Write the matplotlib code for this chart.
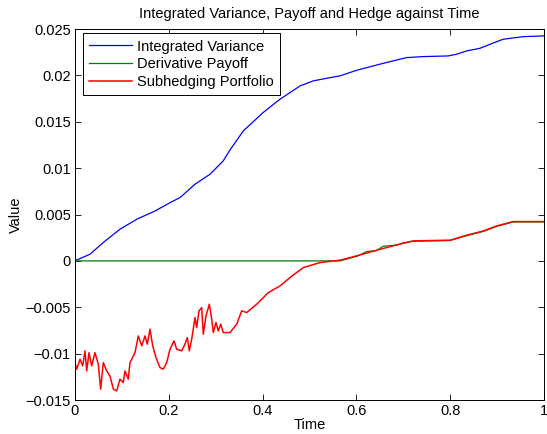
import numpy as np
import matplotlib
matplotlib.use('Agg')
import matplotlib.pyplot as plt
from matplotlib.ticker import FuncFormatter

plt.rcParams['font.family'] = ['Liberation Sans', 'DejaVu Sans']

# integrated variance path
t_var = [0.0, 0.003, 0.032, 0.060, 0.096, 0.132, 0.171, 0.203, 0.224, 0.256, 0.288,
         0.316, 0.330, 0.359, 0.401, 0.437, 0.480, 0.508, 0.544, 0.565, 0.601, 0.650,
         0.693, 0.707, 0.743, 0.796, 0.814, 0.835, 0.864, 0.885, 0.913, 0.956, 1.0]
int_var = [0.0, 0.00008, 0.00072, 0.00197, 0.00342, 0.00450, 0.00539, 0.00629, 0.00683,
           0.00827, 0.00935, 0.01078, 0.01193, 0.01402, 0.01599, 0.01743, 0.01887,
           0.01941, 0.01976, 0.01995, 0.02056, 0.02121, 0.02175, 0.02192, 0.02203,
           0.02210, 0.02229, 0.02264, 0.02293, 0.02336, 0.02390, 0.02418, 0.02426]

# derivative payoff
t_pay = [0.0, 0.565, 0.601, 0.622, 0.643, 0.657, 0.686, 0.700, 0.721, 0.800, 0.835,
         0.871, 0.899, 0.935, 1.0]
payoff = [0.0, 0.0, 0.00050, 0.00100, 0.00112, 0.00158, 0.00170, 0.00194, 0.00212,
          0.00220, 0.00272, 0.00318, 0.00372, 0.00420, 0.00420]

# subhedging portfolio value
t_hedge = [0.0, 0.0036, 0.0107, 0.0164, 0.0213, 0.0249, 0.0299, 0.0356, 0.0426, 0.0497,
           0.0548, 0.0603, 0.0676, 0.0746, 0.0817, 0.0889, 0.0959, 0.1030, 0.1066,
           0.1136, 0.1173, 0.1279, 0.1350, 0.1422, 0.1493, 0.1542, 0.1599, 0.1657,
           0.1727, 0.1812, 0.1883, 0.1955, 0.2026, 0.2111, 0.2168, 0.2275, 0.2345,
           0.2394, 0.2437, 0.2488, 0.2559, 0.2595, 0.2644, 0.2701, 0.2736, 0.2793,
           0.2864, 0.2915, 0.2949, 0.3006, 0.3055, 0.3107, 0.3162, 0.3305, 0.3448,
           0.3554, 0.3661, 0.3874, 0.4122, 0.4371, 0.4584, 0.4868, 0.5224, 0.5650,
           0.6006, 0.6433, 0.6859, 0.7213, 0.7996, 0.8352, 0.8706, 0.8991, 0.9345, 1.0]
hedge = [-0.01097, -0.01168, -0.01060, -0.01132, -0.00970, -0.01186, -0.00989, -0.01132,
         -0.00989, -0.01114, -0.01383, -0.01097, -0.01186, -0.01240, -0.01383, -0.01402,
         -0.01275, -0.01312, -0.01186, -0.01275, -0.01097, -0.00989, -0.00809, -0.00916,
         -0.00809, -0.00898, -0.00736, -0.00916, -0.01043, -0.01150, -0.01168, -0.01097,
         -0.00952, -0.00863, -0.00952, -0.00970, -0.00898, -0.00827, -0.00970, -0.00844,
         -0.00611, -0.00719, -0.00539, -0.00504, -0.00790, -0.00593, -0.00467, -0.00629,
         -0.00773, -0.00665, -0.00755, -0.00682, -0.00773, -0.00773, -0.00682, -0.00539,
         -0.00557, -0.00467, -0.00342, -0.00270, -0.00180, -0.00072, -0.00018, 0.00008,
         0.00054, 0.00115, 0.00173, 0.00216, 0.00223, 0.00277, 0.00323, 0.00377,
         0.00424, 0.00424]

fig = plt.figure(figsize=(5.47, 4.34), dpi=100)
ax = fig.add_axes([0.1371, 0.0783, 0.8574, 0.8548])

ax.plot(t_var, int_var, color=(0, 0, 1), lw=0.9, label='Integrated Variance')
ax.plot(t_pay, payoff, color=(0, 0.5, 0), lw=0.9, label='Derivative Payoff')
ax.plot(t_hedge, hedge, color=(1, 0, 0), lw=1.1, label='Subhedging Portfolio')

ax.set_xlim(0, 1)
ax.set_ylim(-0.015, 0.025)
ax.set_xticks(np.arange(0, 1.01, 0.2))
ax.set_yticks(np.arange(-0.015, 0.0251, 0.005))
fmt = FuncFormatter(lambda v, p: ('%g' % round(v, 6)).replace('-', '\u2212'))
ax.xaxis.set_major_formatter(fmt)
ax.yaxis.set_major_formatter(fmt)
ax.tick_params(direction='in', top=True, right=True, length=4, width=0.6,
               labelsize=10.5, pad=3)
for s in ax.spines.values():
    s.set_linewidth(0.7)

ax.set_title('Integrated Variance, Payoff and Hedge against Time', fontsize=10.5, pad=8)
ax.set_xlabel('Time', fontsize=10.5, labelpad=0)
ax.set_ylabel('Value', fontsize=10.5, labelpad=2)

leg = ax.legend(loc='upper left', bbox_to_anchor=(0.0164, 0.9892), fontsize=10.5,
                fancybox=False, edgecolor='black', framealpha=1,
                borderaxespad=0, handlelength=2.9, handletextpad=0.35,
                labelspacing=0.25, borderpad=0.45)
leg.get_frame().set_linewidth(0.7)

fig.savefig('out.png', dpi=100)
